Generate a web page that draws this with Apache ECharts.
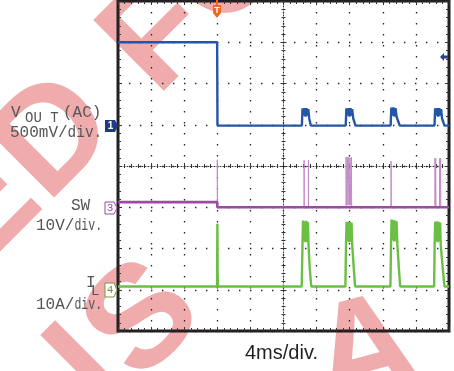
<!DOCTYPE html>
<html>
<head>
<meta charset="utf-8">
<script src="https://cdn.jsdelivr.net/npm/echarts@6/dist/echarts.min.js"></script>
<style>
  html, body { margin: 0; padding: 0; background: #fff; }
  #chart { width: 454px; height: 371px; }
</style>
</head>
<body>
<div id="chart"></div>
<script>
// scope capture, 4 ms/div, time in ms (trigger at -8 ms)
const timeMin = -20
const timeMax = 20
const timeStep = 4

// channel 1: Vout (AC), volts
const voutTrace = [
  [-20, 1.0], [-8.02, 1.0], [-7.98, -0.01],
  [2.22, -0.01], [2.3, 0.2], [2.42, 0.11], [2.54, 0.2], [2.66, 0.1], [2.78, 0.2], [2.9, 0.11], [3.0, 0.19], [3.1, 0.08], [3.3, -0.01],
  [7.52, -0.01], [7.6, 0.2], [7.72, 0.11], [7.85, 0.2], [7.97, 0.1], [8.09, 0.2], [8.2, 0.11], [8.3, 0.19], [8.42, 0.08], [8.7, -0.01],
  [12.95, -0.01], [13.03, 0.21], [13.16, 0.11], [13.29, 0.21], [13.42, 0.1], [13.54, 0.2], [13.66, 0.1], [13.76, 0.07], [14.05, -0.01],
  [18.25, -0.01], [18.33, 0.2], [18.45, 0.11], [18.58, 0.2], [18.7, 0.1], [18.83, 0.2], [18.95, 0.11], [19.05, 0.19], [19.15, 0.08], [19.45, -0.01],
  [20, -0.01]
]

// channel 3: SW node, volts
const swLevel = [[-20, 1.25], [-8.0, 1.25], [-8.0, 0], [20, 0]]
const swSpikes = [
  [-8.0, 0], [-8.0, 11.5], [-7.97, 0],
  [2.48, 0], [2.49, 11.4], [2.51, 0], [3.0, 0], [3.01, 11.4], [3.03, 0],
  [7.55, 0], [7.56, 12.2], [7.64, 0.5], [7.72, 12.1], [7.8, 0.5], [7.88, 12.2], [7.96, 0.5], [8.04, 12.0], [8.12, 0.5], [8.2, 12.1], [8.24, 0],
  [12.99, 0], [13.0, 11.2], [13.02, 0],
  [18.3, 0], [18.31, 11.9], [18.35, 0.5], [18.39, 11.9], [18.43, 0], [18.85, 0], [18.86, 11.8], [18.89, 0], [18.98, 0], [18.99, 11.9], [19.02, 0]
]

// channel 4: inductor current, amps
const ilTrace = [
  [-20, 0.8], [-8.03, 0.8], [-7.99, 16.0], [-7.96, 4.0], [-7.92, 0.8],
  [2.2, 0.8], [2.3, 11.5], [2.36, 16.8], [2.45, 11.8], [2.55, 16.6], [2.65, 11.5], [2.75, 16.7], [2.85, 11.6], [2.95, 16.4], [3.02, 11.0], [3.18, 5.0], [3.35, 0.8],
  [7.48, 0.8], [7.56, 11.5], [7.62, 16.5], [7.72, 11.8], [7.82, 16.5], [7.92, 11.5], [8.02, 16.4], [8.12, 11.6], [8.22, 16.3], [8.3, 11.0], [8.5, 5.0], [8.65, 0.8],
  [12.92, 0.8], [13.0, 11.5], [13.06, 17.0], [13.16, 12.0], [13.26, 16.9], [13.36, 11.7], [13.46, 16.8], [13.56, 11.8], [13.66, 16.6], [13.76, 11.0], [13.95, 5.0], [14.1, 0.8],
  [18.2, 0.8], [18.27, 11.5], [18.33, 16.5], [18.43, 11.8], [18.53, 16.6], [18.63, 11.5], [18.73, 16.5], [18.83, 11.7], [18.93, 16.3], [19.0, 11.0], [19.25, 5.0], [19.45, 0.8],
  [20, 0.8]
]

// volts (or amps) per division and ground position in divisions
const chScale = { vout: 0.5, sw: 10, il: 10 }
const chGround = { vout: 1, sw: -1, il: -3 }

const toDiv = (pts, ch) => pts.map(p => [p[0], p[1] / chScale[ch] + chGround[ch]])

const pink = '#f0acac'
const gridDot = { color: '#222', type: [1.4, 9.6], width: 1.3 }
const monoFont = '"Liberation Mono", "Courier New", monospace'

const chart = echarts.init(document.getElementById('chart'))

// edge axis: ticks along the frame
const edgeX = (pos) => ({
  type: 'value', min: timeMin, max: timeMax, interval: timeStep, position: pos,
  axisLine: { show: false, onZero: false },
  axisTick: { show: true, inside: true, length: 4, lineStyle: { color: '#333' } },
  minorTick: { show: true, splitNumber: 5, length: 3, lineStyle: { color: '#333' } },
  axisLabel: { show: false },
  splitLine: { show: pos === 'bottom', lineStyle: gridDot }
})
const centerX = (pos) => ({
  type: 'value', min: timeMin, max: timeMax, interval: timeStep, position: pos,
  axisLine: { show: pos === 'bottom', onZero: true, onZeroAxisIndex: 0, lineStyle: { color: '#333', type: [1, 2], width: 1 } },
  axisTick: { show: true, inside: true, length: 3, lineStyle: { color: '#333' } },
  minorTick: { show: true, splitNumber: 5, length: 2, lineStyle: { color: '#333' } },
  axisLabel: { show: false },
  splitLine: { show: false }
})
const edgeY = (pos) => ({
  type: 'value', min: -4, max: 4, interval: 1, position: pos,
  axisLine: { show: false, onZero: false },
  axisTick: { show: true, inside: true, length: 4, lineStyle: { color: '#333' } },
  minorTick: { show: true, splitNumber: 5, length: 3, lineStyle: { color: '#333' } },
  axisLabel: { show: false },
  splitLine: { show: pos === 'left', lineStyle: gridDot }
})
const centerY = (pos) => ({
  type: 'value', min: -4, max: 4, interval: 1, position: pos,
  axisLine: { show: pos === 'left', onZero: true, onZeroAxisIndex: 0, lineStyle: { color: '#333', type: [1, 2], width: 1 } },
  axisTick: { show: true, inside: true, length: 3, lineStyle: { color: '#333' } },
  minorTick: { show: true, splitNumber: 5, length: 2, lineStyle: { color: '#333' } },
  axisLabel: { show: false },
  splitLine: { show: false }
})

const wmLetter = (ch, x, y, rot) => ({
  type: 'text', x: x, y: y, rotation: rot, z: -1, silent: true,
  style: { text: ch, font: 'bold 145px "Liberation Sans", Arial, sans-serif', fill: pink, align: 'center', verticalAlign: 'middle' }
})
const label = (txt, x, y, size, sx) => ({
  type: 'text', x: x, y: y, scaleX: sx || 1, z: 5,
  style: { text: txt, font: size + 'px ' + monoFont, fill: '#555', align: 'left', verticalAlign: 'middle' }
})

const option = {
  animation: false,
  grid: { left: 118, top: 1, width: 331, height: 330, show: true, borderColor: '#231f20', borderWidth: 3, backgroundColor: 'transparent' },
  xAxis: [edgeX('bottom'), edgeX('top'), centerX('bottom'), centerX('top')],
  yAxis: [edgeY('left'), edgeY('right'), centerY('left'), centerY('right')],
  series: [
    { type: 'line', data: toDiv(voutTrace, 'vout'), symbol: 'none', lineStyle: { color: '#2556a6', width: 2.4 }, z: 3 },
    { type: 'line', data: toDiv(swSpikes, 'sw'), symbol: 'none', lineStyle: { color: '#c28ac6', width: 1 }, z: 3 },
    { type: 'line', data: toDiv(swLevel, 'sw'), symbol: 'none', lineStyle: { color: '#9c4aa2', width: 2.6 }, z: 4 },
    { type: 'line', data: toDiv(ilTrace, 'il'), symbol: 'none', lineStyle: { color: '#6cbf45', width: 2.4 }, z: 3 }
  ],
  graphic: [
    // watermark
    wmLetter('E', -16, 211, Math.PI / 4),
    wmLetter('D', 56, 139, Math.PI / 4),
    wmLetter('F', 160, 38, Math.PI / 4),
    wmLetter('O', 231, -33, Math.PI / 4),
    wmLetter('I', 90, 370, Math.PI / 4),
    wmLetter('S', 145, 322, Math.PI / 4),
    wmLetter('A', 366, 357, 0.26),

    // channel labels
    label('V', 11, 113, 16),
    label('OU T', 25, 118, 14),
    label('(AC)', 63, 113, 16),
    label('500mV/', 10, 133, 16),
    label('div.', 67.6, 133, 16, 0.9),
    label('SW', 71, 206, 16),
    label('10V/', 36, 226, 16),
    label('div.', 74.4, 226, 16, 0.72),
    label('I', 86, 283, 16),
    label('L', 91, 291, 14),
    label('10A/', 36, 305, 16),
    label('div.', 74.4, 305, 16, 0.72),
    {
      type: 'text', x: 245, y: 353, z: 5,
      style: { text: '4ms/div.', font: '20px "Liberation Sans", Arial, sans-serif', fill: '#231f20', align: 'left', verticalAlign: 'middle' }
    },

    // channel ground markers
    { type: 'polygon', z: 6, shape: { points: [[105, 120], [115, 120], [118, 126], [115, 132], [105, 132]] }, style: { fill: '#1f3a84' } },
    { type: 'text', x: 110.5, y: 126.5, z: 7, style: { text: '1', font: 'bold 10px sans-serif', fill: '#fff', align: 'center', verticalAlign: 'middle' } },
    { type: 'polygon', z: 6, shape: { points: [[105, 202], [114, 202], [117, 208], [114, 214], [105, 214]] }, style: { fill: '#fff', stroke: '#9c4aa2', lineWidth: 1 } },
    { type: 'text', x: 110, y: 208.5, z: 7, style: { text: '3', font: '11px ' + monoFont, fill: '#9c4aa2', align: 'center', verticalAlign: 'middle' } },
    { type: 'polygon', z: 6, shape: { points: [[105, 283], [114, 283], [117, 290], [114, 297], [105, 297]] }, style: { fill: '#fff', stroke: '#6e9c3c', lineWidth: 1 } },
    { type: 'text', x: 110, y: 290.5, z: 7, style: { text: '4', font: '11px ' + monoFont, fill: '#7a8c3c', align: 'center', verticalAlign: 'middle' } },

    // trigger position marker
    { type: 'line', z: 6, shape: { x1: 217, y1: 0, x2: 217, y2: 5 }, style: { stroke: '#ee6a22', lineWidth: 2 } },
    { type: 'polygon', z: 6, shape: { points: [[213, 5], [221, 5], [221, 13], [217, 18], [213, 13]] }, style: { fill: '#ee6a22' } },
    { type: 'text', x: 217, y: 10.5, z: 7, style: { text: 'T', font: 'bold 9px sans-serif', fill: '#fff', align: 'center', verticalAlign: 'middle' } },

    // trigger level marker
    { type: 'polygon', z: 6, shape: { points: [[440, 57], [444, 53], [444, 55.5], [448, 55.5], [448, 58.5], [444, 58.5], [444, 61]] }, style: { fill: '#2a3f8f' } }
  ]
}

chart.setOption(option)
</script>
</body>
</html>
